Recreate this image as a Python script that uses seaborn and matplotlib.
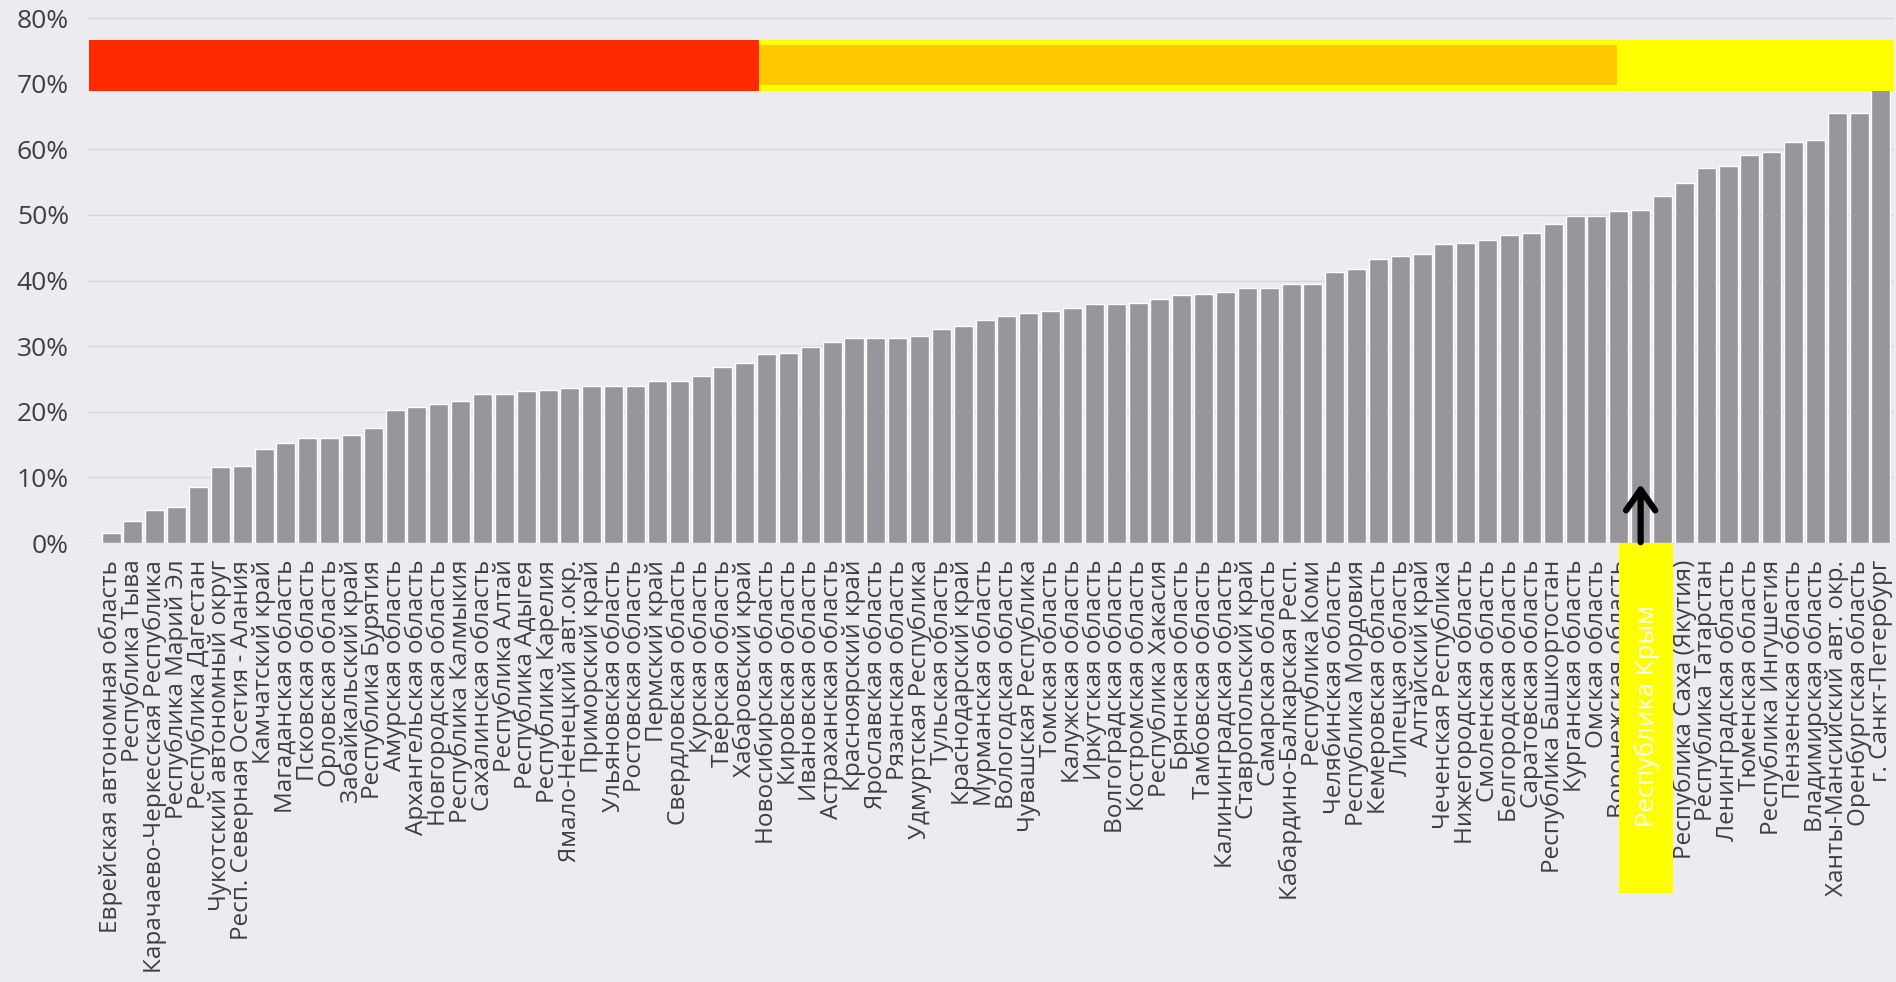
import matplotlib
matplotlib.use("Agg")
import matplotlib.pyplot as plt
import seaborn as sns
import pandas as pd
from matplotlib.patches import Rectangle

# ---------------- data ----------------
regions = [
    "Еврейская автономная область", "Республика Тыва", "Карачаево-Черкесская Республика",
    "Республика Марий Эл", "Республика Дагестан", "Чукотский автономный округ",
    "Респ. Северная Осетия - Алания", "Камчатский край", "Магаданская область",
    "Псковская область", "Орловская область", "Забайкальский край", "Республика Бурятия",
    "Амурская область", "Архангельская область", "Новгородская область",
    "Республика Калмыкия", "Сахалинская область", "Республика Алтай", "Республика Адыгея",
    "Республика Карелия", "Ямало-Ненецкий авт.окр.", "Приморский край",
    "Ульяновская область", "Ростовская область", "Пермский край", "Свердловская область",
    "Курская область", "Тверская область", "Хабаровский край", "Новосибирская область",
    "Кировская область", "Ивановская область", "Астраханская область", "Красноярский край",
    "Ярославская область", "Рязанская область", "Удмуртская Республика", "Тульская область",
    "Краснодарский край", "Мурманская область", "Вологодская область", "Чувашская Республика",
    "Томская область", "Калужская область", "Иркутская область", "Волгоградская область",
    "Костромская область", "Республика Хакасия", "Брянская область", "Тамбовская область",
    "Калининградская область", "Ставропольский край", "Самарская область",
    "Кабардино-Балкарская Респ.", "Республика Коми", "Челябинская область",
    "Республика Мордовия", "Кемеровская область", "Липецкая область", "Алтайский край",
    "Чеченская Республика", "Нижегородская область", "Смоленская область",
    "Белгородская область", "Саратовская область", "Республика Башкортостан",
    "Курганская область", "Омская область", "Воронежская область",
    "Республика Крым", "",
    "Республика Саха (Якутия)", "Республика Татарстан", "Ленинградская область",
    "Тюменская область", "Республика Ингушетия", "Пензенская область",
    "Владимирская область", "Ханты-Мансийский авт. окр.", "Оренбургская область",
    "г. Санкт-Петербург",
]
share = [
    1.5, 3.3, 5.0, 5.5, 8.6, 11.6, 11.8, 14.4, 15.3, 16.0,
    16.0, 16.5, 17.5, 20.2, 20.8, 21.2, 21.6, 22.7, 22.7, 23.1,
    23.3, 23.6, 23.9, 24.0, 24.0, 24.7, 24.7, 25.5, 26.8, 27.4,
    28.8, 28.9, 29.9, 30.7, 31.3, 31.3, 31.3, 31.5, 32.6, 33.1,
    34.0, 34.6, 35.0, 35.3, 35.8, 36.4, 36.4, 36.6, 37.2, 37.8,
    37.9, 38.3, 38.8, 38.8, 39.4, 39.4, 41.3, 41.8, 43.3, 43.8,
    44.0, 45.5, 45.7, 46.2, 46.9, 47.3, 48.6, 49.8, 49.9, 50.6,
    50.8, 52.9, 54.9, 57.2, 57.5, 59.1, 59.6, 61.1, 61.4, 65.6,
    65.6, 70.0,
]
yticks = [0, 10, 20, 30, 40, 50, 60, 70, 80]
highlight = "Республика Крым"

# ---------------- style ----------------
BG = "#ECECF0"
BAR = "#96969B"
TXT = "#3E3E42"

sns.set_theme(style="white")
plt.rcParams["font.family"] = ["Open Sans", "DejaVu Sans"]

fig = plt.figure(figsize=(18.96, 9.82), dpi=100, facecolor=BG)
ax = fig.add_axes([0.0459, 0.447, 0.9531, 0.5346])
ax.set_facecolor(BG)

df = pd.DataFrame({"pos": list(range(len(regions))), "share": share})
sns.barplot(data=df, x="pos", y="share", color=BAR, saturation=1,
            width=0.87, ax=ax, zorder=2)

hi = regions.index(highlight)
tick_text = ["" if i == hi else r for i, r in enumerate(regions)]

ax.set_xlim(-1.1, 81.6)
ax.set_ylim(0, 80)
ax.set_yticks(yticks)
ax.set_yticklabels([f"{v}%" for v in yticks], fontsize=19, color=TXT)
ax.set_xticks(range(len(regions)))
ax.set_xticklabels(tick_text, rotation=90, fontsize=17.5, color=TXT)
ax.tick_params(axis="x", length=0, pad=12)
ax.tick_params(axis="y", length=0, pad=13)
ax.set_xlabel("")
ax.set_ylabel("")
ax.yaxis.grid(True, color="#D6D6DA", lw=1)
ax.xaxis.grid(False)
ax.set_axisbelow(True)
for s in ax.spines.values():
    s.set_visible(False)

# coloured bands at the top
ax.add_patch(Rectangle((29.66, 68.9), 81.6 - 29.66, 7.8, facecolor="#FFFF00",
                       edgecolor="none", zorder=4, clip_on=False))
ax.add_patch(Rectangle((29.66, 69.75), 68.9 - 29.66, 6.15, facecolor="#FFC800",
                       edgecolor="none", zorder=4.1, clip_on=False))
ax.add_patch(Rectangle((-1.0, 68.9), 30.66, 7.8, facecolor="#FF2A00",
                       edgecolor="none", zorder=4.2, clip_on=False))

# highlighted region
xt = ax.get_xaxis_transform()
ax.add_patch(Rectangle((hi - 1.0, -0.667), 2.5, 0.667, transform=xt,
                       facecolor="#FFFF00", edgecolor="none", zorder=5, clip_on=False))
ax.text(hi + 0.3, -0.33, highlight, rotation=90, ha="center", va="center",
        color="white", fontsize=18.5, transform=xt, zorder=6)
ax.annotate("", xy=(hi, 9.4), xytext=(hi, -0.3),
            arrowprops=dict(arrowstyle="->,head_length=0.5,head_width=0.35",
                            color="black", lw=4.5, mutation_scale=30),
            annotation_clip=False, zorder=6)

fig.savefig("out.png", dpi=100, facecolor=BG)
